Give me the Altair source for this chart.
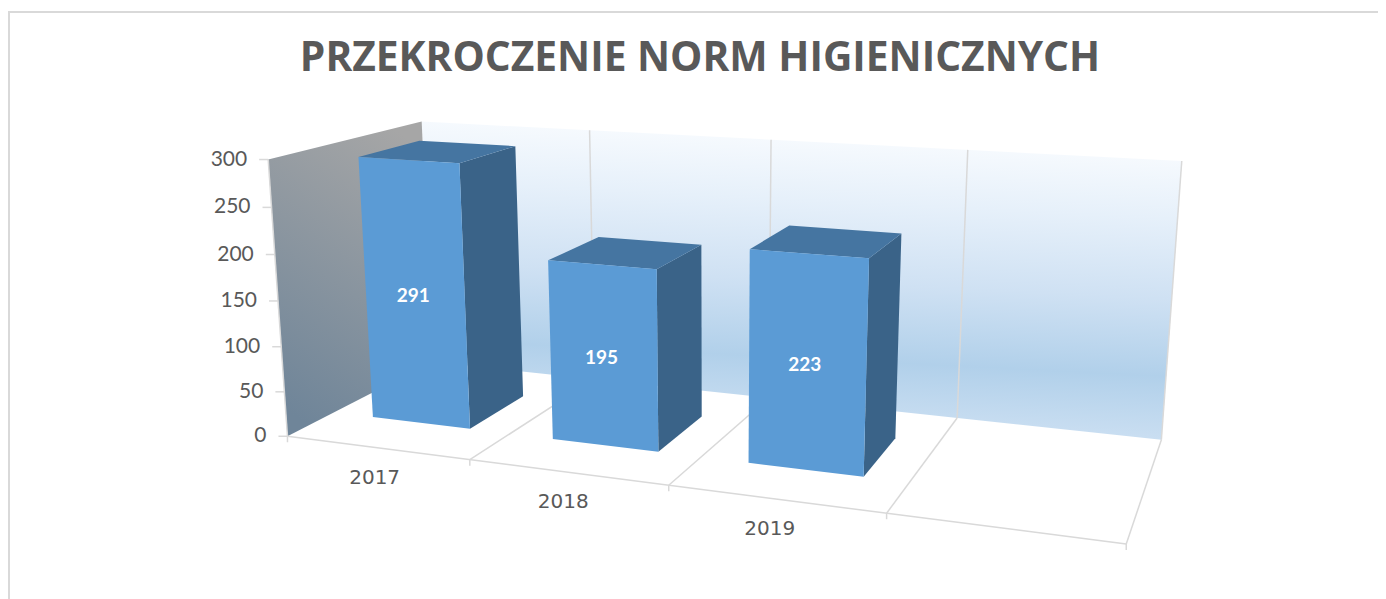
import altair as alt
import numpy as np
import pandas as pd

TITLE = "PRZEKROCZENIE NORM HIGIENICZNYCH"
years = ["2017", "2018", "2019"]
values = [291, 195, 223]
y_ticks = [0, 50, 100, 150, 200, 250, 300]
n_slots = 4
y_max = 300

# Camera calibration: (slot, value, depth) of the chart box and where the box shows on the page.
box_world = [
    (0, 0, 0), (1, 0, 0), (2, 0, 0), (3, 0, 0), (4, 0, 0),
    (4, 0, 1), (3, 0, 1), (0, 0, 1),
    (0, 300, 0), (0, 300, 1), (1, 300, 1), (2, 300, 1), (3, 300, 1), (4, 300, 1),
]
box_page = [
    (288, 435), (470, 460), (668, 487), (887, 514), (1126, 543),
    (1161, 439), (958, 418), (432, 362),
    (268, 159), (422, 122), (590, 130), (770, 140), (968, 150), (1182, 161),
]
bar_x0, bar_x1 = 0.245, 0.795
bar_z0, bar_z1 = 0.27, 0.68
bar_lift = 2.0

A, b = [], []
for (wx, wy, wz), (sx, sy) in zip(box_world, box_page):
    w = [wx, wy / y_max, wz, 1.0]
    A.append(w + [0, 0, 0, 0] + [-sx * c for c in w[:3]])
    b.append(sx * w[3])
    A.append([0, 0, 0, 0] + w + [-sy * c for c in w[:3]])
    b.append(sy * w[3])
sol = np.linalg.lstsq(np.array(A, float), np.array(b, float), rcond=None)[0]
P = np.append(sol, 1.0).reshape(3, 4)


def project(x, v, z):
    h = P @ np.array([x, v / y_max, z, 1.0])
    return float(h[0] / h[2]), float(h[1] / h[2])


def bar_point(x, v, z):
    px, py = project(x, v, z)
    return px, py - bar_lift


def shapes(items):
    rows = []
    for name, pts in items:
        for k, (px, py) in enumerate(pts):
            rows.append({"id": name, "ord": k, "px": px, "py": py})
    return pd.DataFrame(rows)


X = alt.X("px:Q", scale=alt.Scale(domain=[8, 1378], nice=False, zero=False), axis=None)
Y = alt.Y("py:Q", scale=alt.Scale(domain=[599, 8], nice=False, zero=False), axis=None)


def filled(items, fill):
    return alt.Chart(shapes(items)).mark_line(
        fill=fill, stroke="transparent", strokeWidth=0, interpolate="linear-closed"
    ).encode(x=X, y=Y, detail="id:N", order="ord:Q")


def lines(items, color="#d9d9d9", width=1.5):
    return alt.Chart(shapes(items)).mark_line(
        color=color, strokeWidth=width
    ).encode(x=X, y=Y, detail="id:N", order="ord:Q")


def grad(x1, y1, x2, y2, stops):
    return alt.LinearGradient(
        gradient="linear", x1=x1, y1=y1, x2=x2, y2=y2,
        stops=[alt.GradientStop(offset=o, color=c) for o, c in stops],
    )


layers = []

# frame of the chart area
layers.append(lines([("frame", [(9, 599), (9, 12), (1378, 12)])], width=2))

# walls
back = [project(0, 0, 1), project(n_slots, 0, 1), project(n_slots, y_max, 1), project(0, y_max, 1)]
left = [project(0, 0, 0), project(0, 0, 1), project(0, y_max, 1), project(0, y_max, 0)]
layers.append(filled([("back", back)], grad(0.56, 0, 0.44, 1, [
    (0, "#fbfdff"), (0.25, "#e6f0fa"), (0.5, "#cfe1f3"), (0.74, "#b1d0ea"), (1, "#d2e3f4")])))
layers.append(filled([("left", left)], grad(0.7, 0, 0.35, 1, [
    (0, "#a6a6a6"), (1, "#6f8599")])))

# box edges and floor grid
edges = [
    ("front", [project(0, 0, 0), project(n_slots, 0, 0)]),
    ("rightfloor", [project(n_slots, 0, 1), project(n_slots, 0, 0)]),
    ("rightwall", [project(n_slots, 0, 1), project(n_slots, y_max, 1)]),
    ("leftaxis", [project(0, 0, 0), project(0, y_max, 0)]),
]
for i in range(1, n_slots):
    edges.append((f"fl{i}", [project(i, 0, 0), project(i, 0, 1)]))
    edges.append((f"wl{i}", [project(i, 0, 1), project(i, y_max, 1)]))
for i in range(n_slots + 1):
    px, py = project(i, 0, 0)
    edges.append((f"xt{i}", [(px, py), (px, py + 6)]))
for t in y_ticks:
    px, py = project(0, t, 0)
    edges.append((f"yt{t}", [(px - 9, py), (px, py)]))
layers.append(lines(edges))

# bars
fronts, sides, tops = [], [], []
for i, v in enumerate(values):
    x0, x1 = i + bar_x0, i + bar_x1
    fronts.append((f"b{i}", [bar_point(x0, 0, bar_z0), bar_point(x1, 0, bar_z0), bar_point(x1, v, bar_z0), bar_point(x0, v, bar_z0)]))
    sides.append((f"b{i}", [bar_point(x1, 0, bar_z0), bar_point(x1, 0, bar_z1), bar_point(x1, v, bar_z1), bar_point(x1, v, bar_z0)]))
    tops.append((f"b{i}", [bar_point(x0, v, bar_z0), bar_point(x1, v, bar_z0), bar_point(x1, v, bar_z1), bar_point(x0, v, bar_z1)]))
layers.append(filled(sides, "#3a6388"))
layers.append(filled(tops, "#4575a1"))
layers.append(filled(fronts, "#5b9bd5"))

# texts
ylab = pd.DataFrame([
    {"px": project(0, t, 0)[0] - 21, "py": project(0, t, 0)[1], "label": str(t)} for t in y_ticks
])
layers.append(alt.Chart(ylab).mark_text(
    align="right", baseline="middle", font="Lato", fontSize=21, color="#595959"
).encode(x=X, y=Y, text="label:N"))

xlab = pd.DataFrame([
    {"px": (project(i, 0, 0)[0] + project(i + 1, 0, 0)[0]) / 2 - 4 - 2 * i,
     "py": (project(i, 0, 0)[1] + project(i + 1, 0, 0)[1]) / 2 + 30,
     "label": y} for i, y in enumerate(years)
])
layers.append(alt.Chart(xlab).mark_text(
    align="center", baseline="middle", font="DejaVu Sans", fontSize=20, color="#595959"
).encode(x=X, y=Y, text="label:N"))

vlab = pd.DataFrame([
    {"px": project(i + 0.5, v / 2, bar_z0)[0] + 2, "py": project(i + 0.5, v / 2, bar_z0)[1], "label": str(v)}
    for i, v in enumerate(values)
])
layers.append(alt.Chart(vlab).mark_text(
    align="center", baseline="middle", font="Lato", fontWeight="bold", fontSize=19, color="#ffffff"
).encode(x=X, y=Y, text="label:N"))

chart = alt.layer(*layers).properties(
    width=1370,
    height=591,
    padding=0,
    autosize=alt.AutoSizeParams(type="none"),
    background="#ffffff",
    title=alt.TitleParams(
        TITLE, font="Open Sans", fontSize=40.7, fontWeight="bold", color="#595959",
        anchor="middle", baseline="alphabetic", offset=0, dy=104, dx=7,
    ),
).configure_view(stroke=None)

chart.save("out.html", embed_options={"renderer": "svg", "actions": False})
